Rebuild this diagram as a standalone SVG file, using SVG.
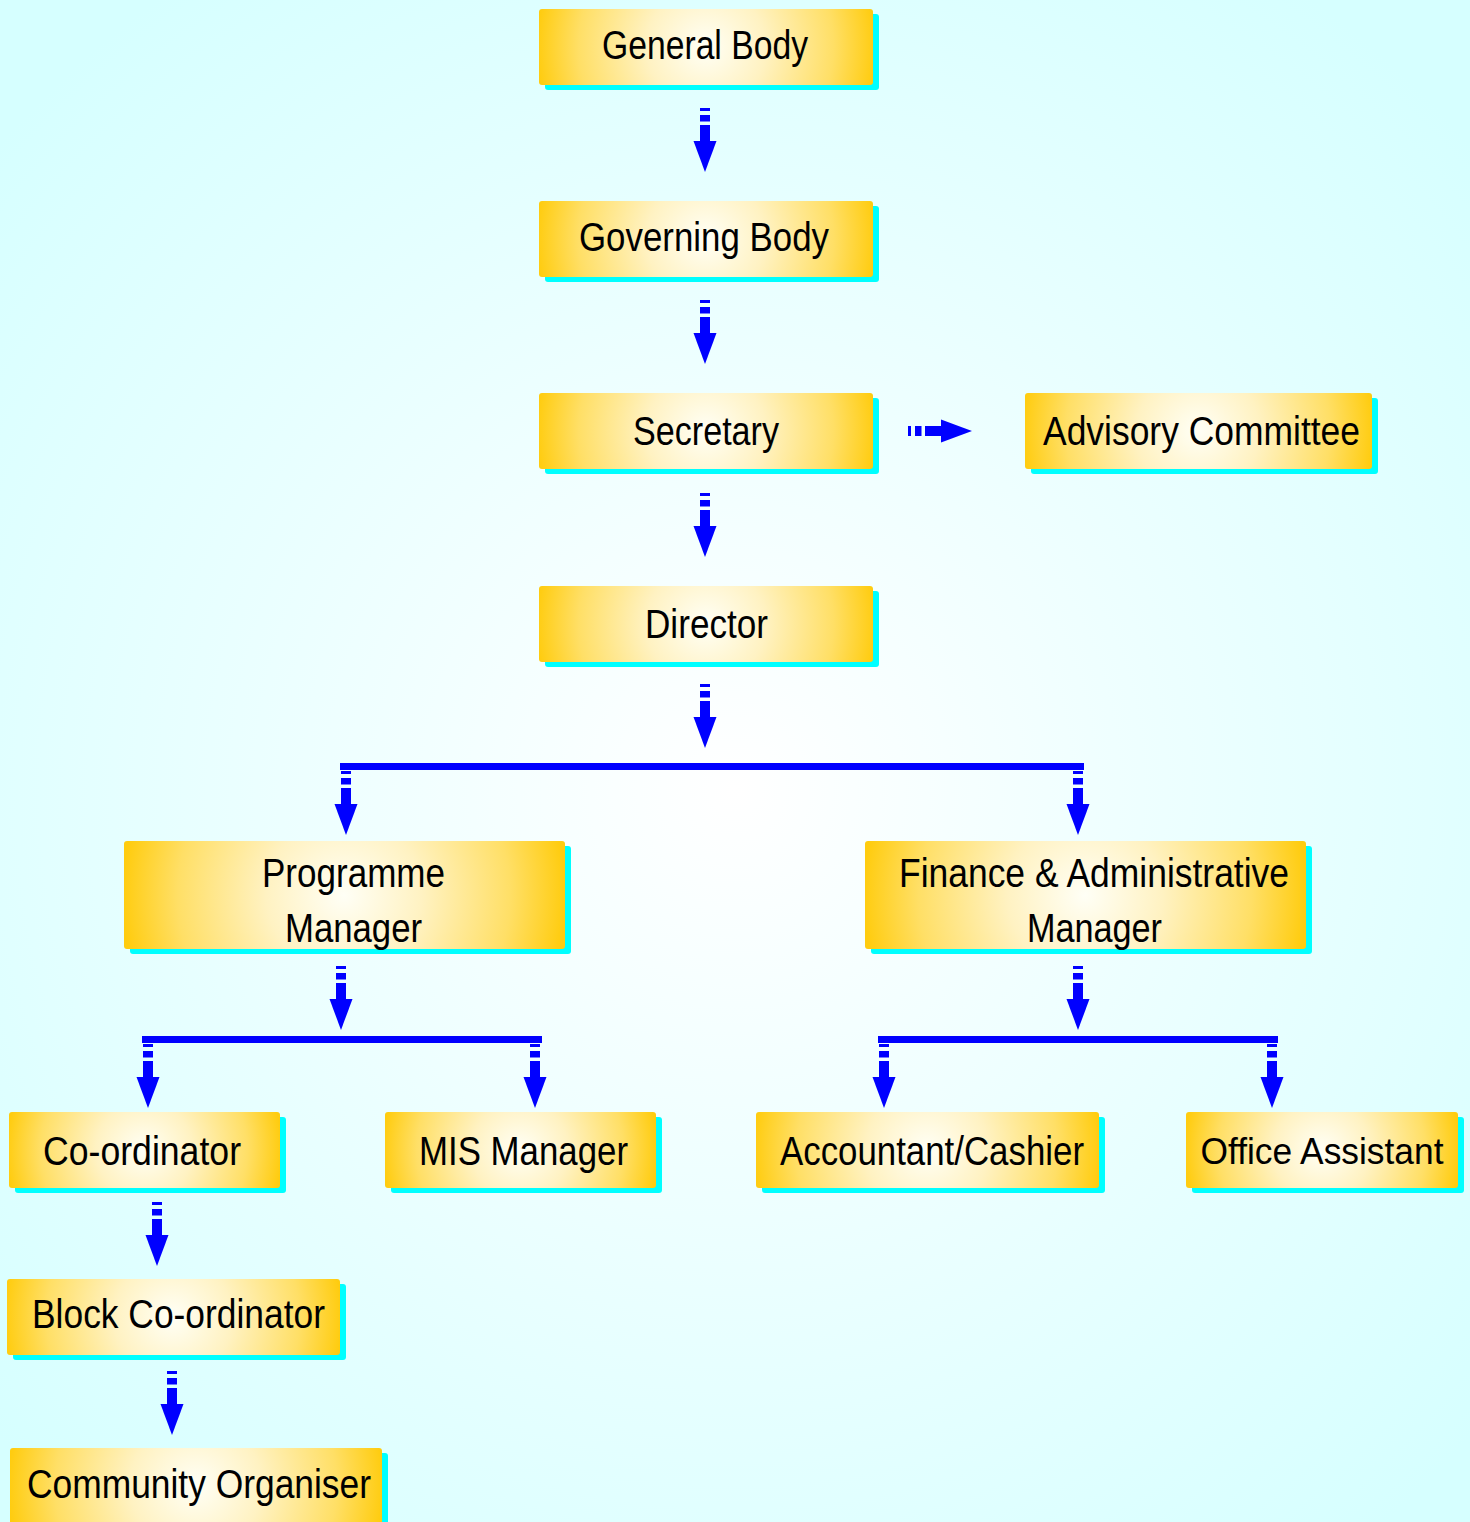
<svg xmlns="http://www.w3.org/2000/svg" xmlns:xlink="http://www.w3.org/1999/xlink" width="1470" height="1522" viewBox="0 0 1470 1522">
<defs>
<radialGradient id="bg" gradientUnits="userSpaceOnUse" cx="735" cy="790" r="980">
<stop offset="0" stop-color="#FFFFFF"/>
<stop offset="1" stop-color="#D6FFFF"/>
</radialGradient>
<radialGradient id="box" gradientUnits="userSpaceOnUse" cx="0" cy="0" r="100">
<stop offset="0" stop-color="#FFFFF6"/>
<stop offset="0.35" stop-color="#FFF2C2"/>
<stop offset="0.75" stop-color="#FFDF66"/>
<stop offset="1" stop-color="#FFCC0F"/>
</radialGradient>
<radialGradient id="g1" xlink:href="#box" cx="706" cy="47" r="170"/>
<radialGradient id="g2" xlink:href="#box" cx="706" cy="239" r="170"/>
<radialGradient id="g3" xlink:href="#box" cx="706" cy="431" r="170"/>
<radialGradient id="g4" xlink:href="#box" cx="1198" cy="431" r="176"/>
<radialGradient id="g5" xlink:href="#box" cx="706" cy="624" r="170"/>
<radialGradient id="g6" xlink:href="#box" cx="344" cy="895" r="222"/>
<radialGradient id="g7" xlink:href="#box" cx="1085" cy="895" r="222"/>
<radialGradient id="g8" xlink:href="#box" cx="144" cy="1150" r="138"/>
<radialGradient id="g9" xlink:href="#box" cx="520" cy="1150" r="138"/>
<radialGradient id="g10" xlink:href="#box" cx="927" cy="1150" r="174"/>
<radialGradient id="g11" xlink:href="#box" cx="1322" cy="1150" r="138"/>
<radialGradient id="g12" xlink:href="#box" cx="173" cy="1317" r="169"/>
<radialGradient id="g13" xlink:href="#box" cx="196" cy="1486" r="188"/>
<g id="ad">
<rect x="-5" y="0" width="10" height="3"/>
<rect x="-5" y="7" width="10" height="6.5"/>
<rect x="-5" y="17" width="10" height="17"/>
<polygon points="-11.5,33 11.5,33 0,64"/>
</g>
<style>
.sh{fill:#00FFFF}
.t{font-family:"Liberation Sans Narrow","Liberation Sans",Arial,sans-serif;font-size:40px;fill:#000}
.c{fill:#0000FF}
</style>
</defs>
<rect width="1470" height="1522" fill="url(#bg)"/>

<g id="connectors" class="c">
<use xlink:href="#ad" x="705" y="108"/>
<use xlink:href="#ad" x="705" y="300"/>
<use xlink:href="#ad" x="705" y="493"/>
<use xlink:href="#ad" x="705" y="684"/>
<use xlink:href="#ad" transform="translate(908,431) rotate(-90)"/>
<rect x="340" y="763" width="744" height="7"/>
<use xlink:href="#ad" x="346" y="771"/>
<use xlink:href="#ad" x="1078" y="771"/>
<use xlink:href="#ad" x="341" y="966"/>
<rect x="142" y="1036" width="400" height="7"/>
<use xlink:href="#ad" x="148" y="1044"/>
<use xlink:href="#ad" x="535" y="1044"/>
<use xlink:href="#ad" x="1078" y="966"/>
<rect x="878" y="1036" width="400" height="7"/>
<use xlink:href="#ad" x="884" y="1044"/>
<use xlink:href="#ad" x="1272" y="1044"/>
<use xlink:href="#ad" x="157" y="1202"/>
<use xlink:href="#ad" x="172" y="1371"/>
</g>

<g id="general-body">
<rect class="sh" x="545" y="14" width="334" height="76" rx="3"/>
<rect fill="url(#g1)" x="539" y="9" width="334" height="76" rx="3"/>
<text class="t" x="602" y="59" textLength="206" lengthAdjust="spacingAndGlyphs">General Body</text>
</g>
<g id="governing-body">
<rect class="sh" x="545" y="206" width="334" height="76" rx="3"/>
<rect fill="url(#g2)" x="539" y="201" width="334" height="76" rx="3"/>
<text class="t" x="579" y="251" textLength="250" lengthAdjust="spacingAndGlyphs">Governing Body</text>
</g>
<g id="secretary">
<rect class="sh" x="545" y="398" width="334" height="76" rx="3"/>
<rect fill="url(#g3)" x="539" y="393" width="334" height="76" rx="3"/>
<text class="t" x="633" y="445" textLength="146" lengthAdjust="spacingAndGlyphs">Secretary</text>
</g>
<g id="advisory-committee">
<rect class="sh" x="1031" y="398" width="347" height="76" rx="3"/>
<rect fill="url(#g4)" x="1025" y="393" width="347" height="76" rx="3"/>
<text class="t" x="1043" y="445" textLength="317" lengthAdjust="spacingAndGlyphs">Advisory Committee</text>
</g>
<g id="director">
<rect class="sh" x="545" y="591" width="334" height="76" rx="3"/>
<rect fill="url(#g5)" x="539" y="586" width="334" height="76" rx="3"/>
<text class="t" x="645" y="638" textLength="123" lengthAdjust="spacingAndGlyphs">Director</text>
</g>
<g id="programme-manager">
<rect class="sh" x="130" y="846" width="441" height="108" rx="3"/>
<rect fill="url(#g6)" x="124" y="841" width="441" height="108" rx="3"/>
<text class="t" x="262" y="887" textLength="183" lengthAdjust="spacingAndGlyphs">Programme</text>
<text class="t" x="285" y="942" textLength="137" lengthAdjust="spacingAndGlyphs">Manager</text>
</g>
<g id="finance-admin-manager">
<rect class="sh" x="871" y="846" width="441" height="108" rx="3"/>
<rect fill="url(#g7)" x="865" y="841" width="441" height="108" rx="3"/>
<text class="t" x="899" y="887" textLength="390" lengthAdjust="spacingAndGlyphs">Finance &amp; Administrative</text>
<text class="t" x="1027" y="942" textLength="135" lengthAdjust="spacingAndGlyphs">Manager</text>
</g>
<g id="co-ordinator">
<rect class="sh" x="15" y="1117" width="271" height="76" rx="3"/>
<rect fill="url(#g8)" x="9" y="1112" width="271" height="76" rx="3"/>
<text class="t" x="43" y="1165" textLength="198" lengthAdjust="spacingAndGlyphs">Co-ordinator</text>
</g>
<g id="mis-manager">
<rect class="sh" x="391" y="1117" width="271" height="76" rx="3"/>
<rect fill="url(#g9)" x="385" y="1112" width="271" height="76" rx="3"/>
<text class="t" x="419" y="1165" textLength="209" lengthAdjust="spacingAndGlyphs">MIS Manager</text>
</g>
<g id="accountant-cashier">
<rect class="sh" x="762" y="1117" width="343" height="76" rx="3"/>
<rect fill="url(#g10)" x="756" y="1112" width="343" height="76" rx="3"/>
<text class="t" x="780" y="1165" textLength="304" lengthAdjust="spacingAndGlyphs">Accountant/Cashier</text>
</g>
<g id="office-assistant">
<rect class="sh" x="1192" y="1117" width="272" height="76" rx="3"/>
<rect fill="url(#g11)" x="1186" y="1112" width="272" height="76" rx="3"/>
<text class="t" x="1322" y="1164" text-anchor="middle" style="font-size:37px" textLength="243" lengthAdjust="spacingAndGlyphs">Office Assistant</text>
</g>
<g id="block-co-ordinator">
<rect class="sh" x="13" y="1284" width="333" height="76" rx="3"/>
<rect fill="url(#g12)" x="7" y="1279" width="333" height="76" rx="3"/>
<text class="t" x="32" y="1328" textLength="293" lengthAdjust="spacingAndGlyphs">Block Co-ordinator</text>
</g>
<g id="community-organiser">
<rect class="sh" x="16" y="1453" width="372" height="76" rx="3"/>
<rect fill="url(#g13)" x="10" y="1448" width="372" height="76" rx="3"/>
<text class="t" x="27" y="1498" textLength="344" lengthAdjust="spacingAndGlyphs">Community Organiser</text>
</g>
</svg>
